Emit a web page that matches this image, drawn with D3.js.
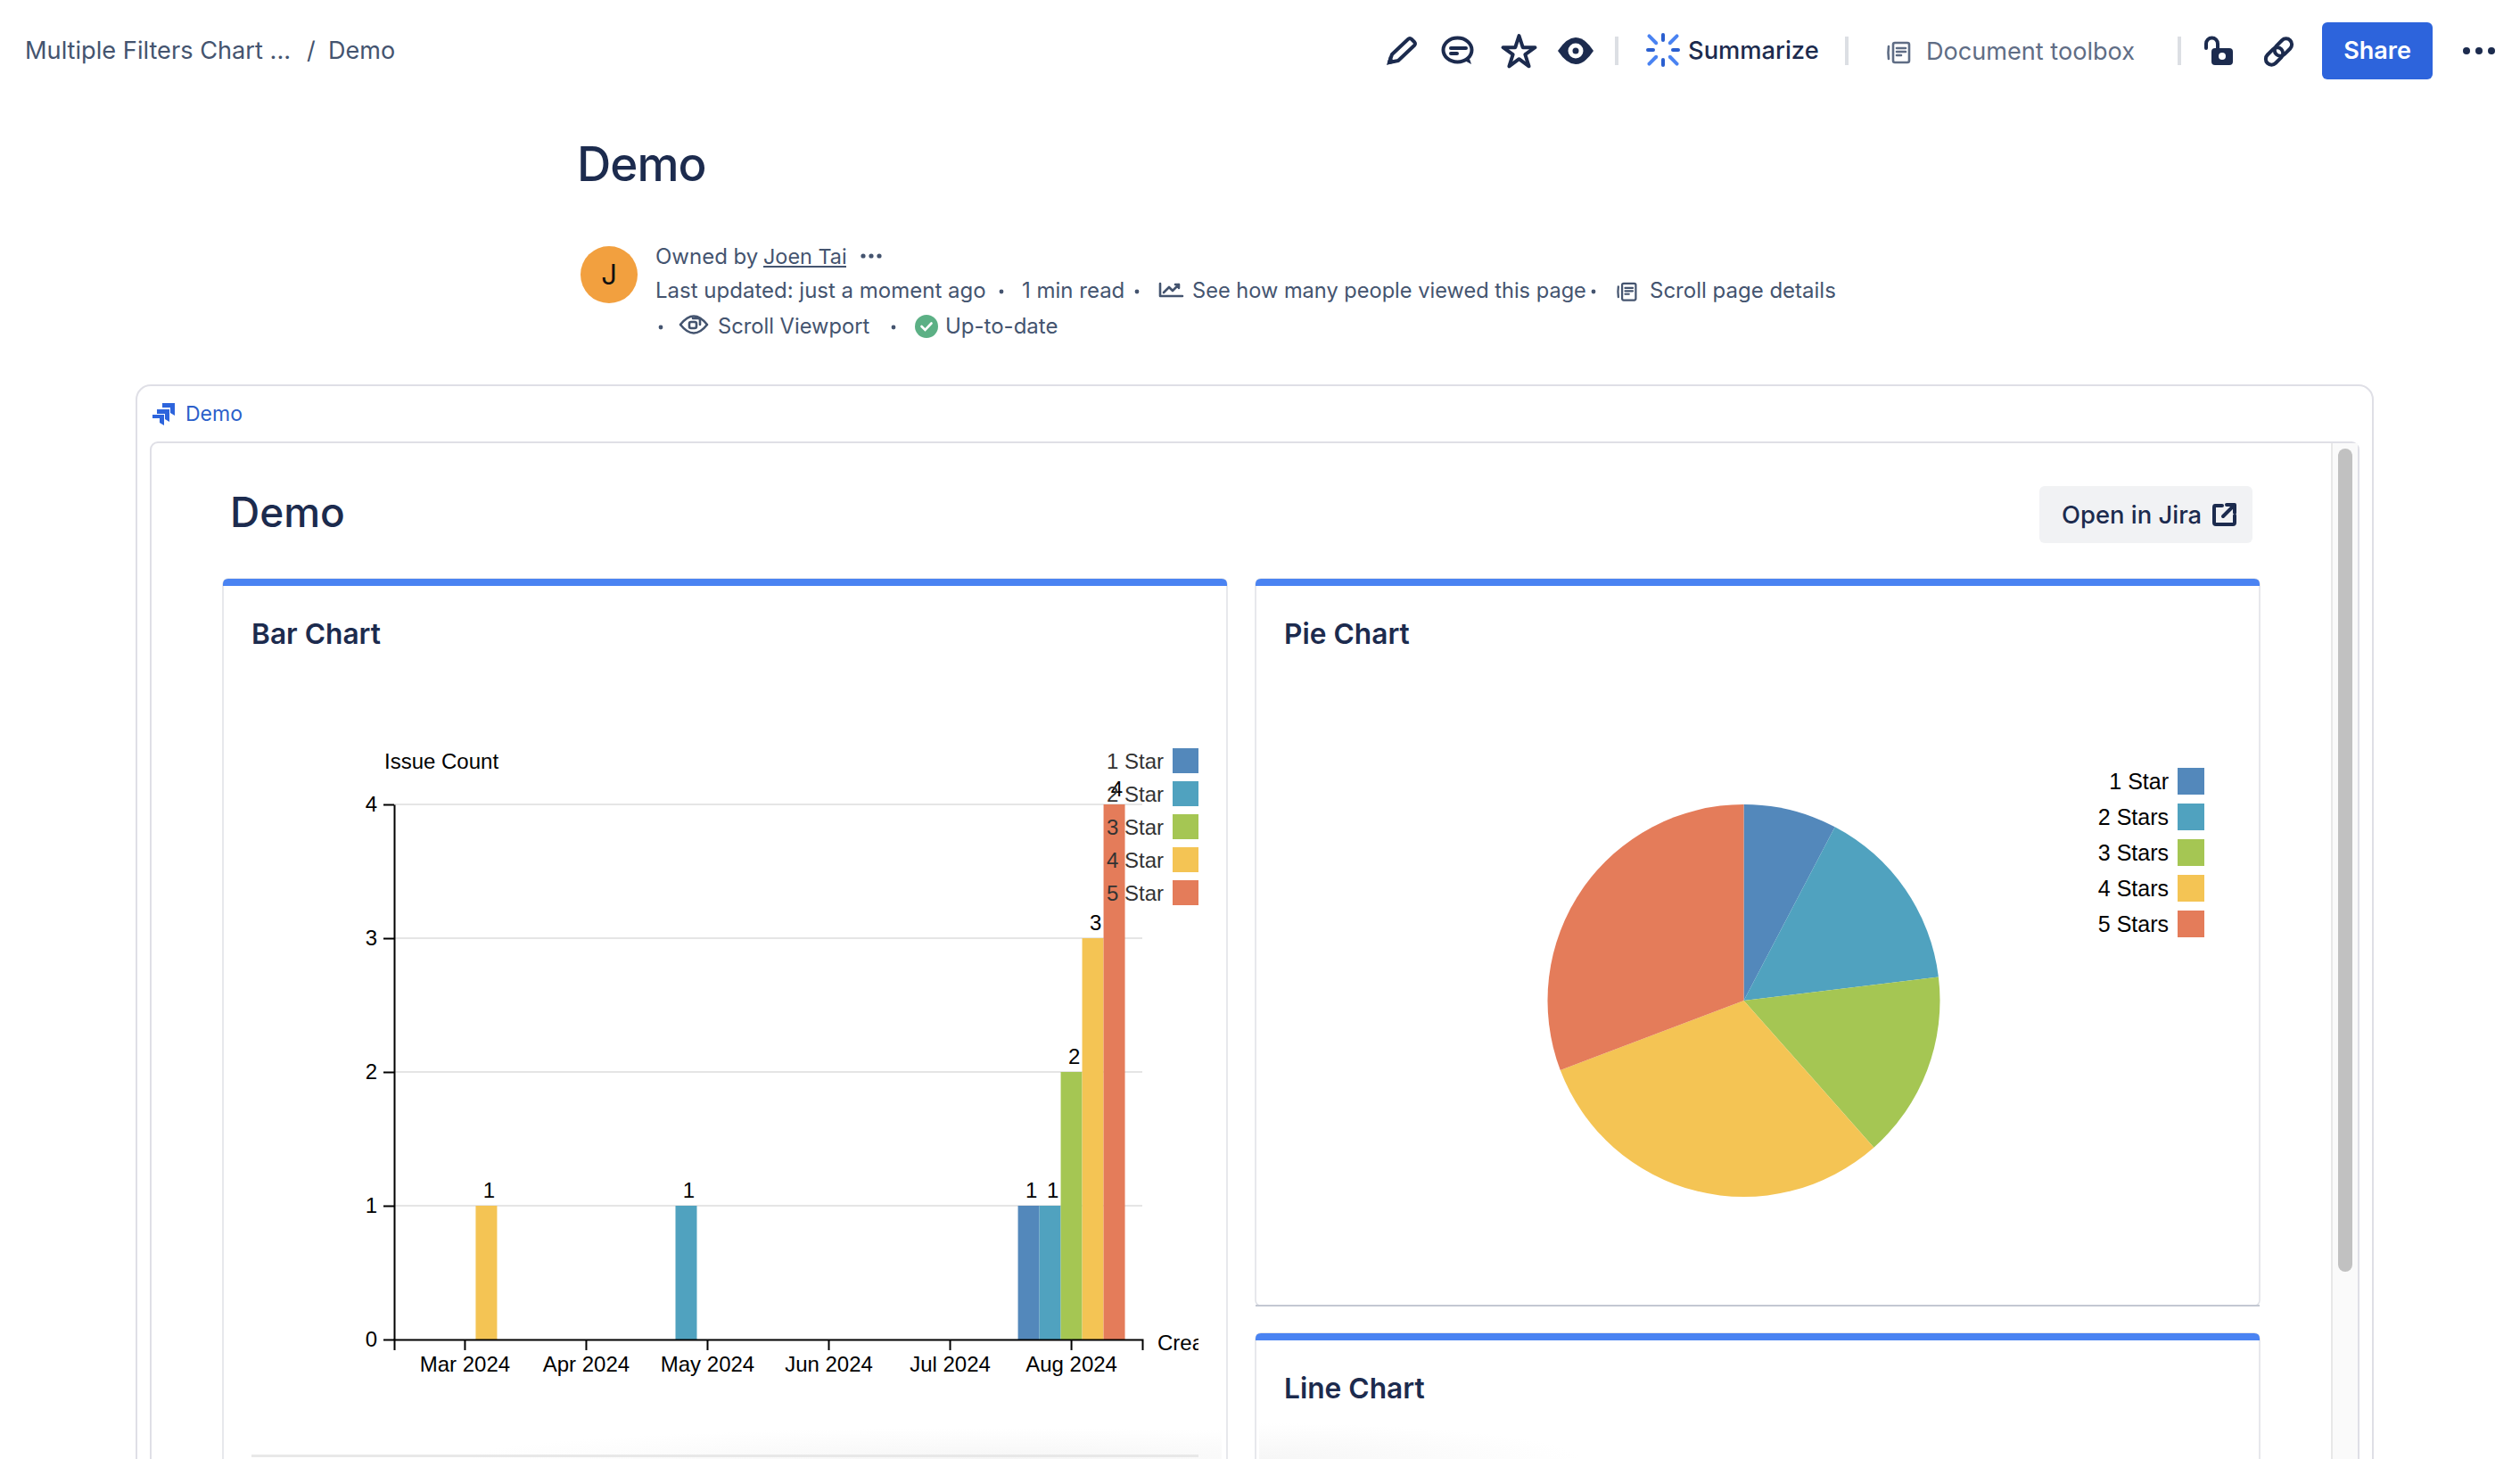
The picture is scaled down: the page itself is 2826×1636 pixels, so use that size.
<!DOCTYPE html>
<html>
<head>
<meta charset="utf-8">
<title>Demo</title>
<script src="https://d3js.org/d3.v7.min.js"></script>
<style>
  html, body { margin:0; padding:0; background:#fff; overflow:hidden; }
  svg { display:block; }
  text { font-family:Inter, "Noto Sans", sans-serif; }
  .chart text { font-family:"Liberation Sans", Arial, sans-serif; }
  .ink { fill:none; stroke:#1c2b4e; stroke-width:4; stroke-linecap:round; stroke-linejoin:round; }
  .grey { fill:none; stroke:#5f6d85; stroke-width:2.6; stroke-linecap:round; stroke-linejoin:round; }
  .slate { fill:none; stroke:#44546f; stroke-width:2.6; stroke-linecap:round; stroke-linejoin:round; }
  .domain, .tick line { stroke:#000; stroke-width:2px; }
</style>
</head>
<body>
<script>
// Chart data
const months = ["Mar 2024", "Apr 2024", "May 2024", "Jun 2024", "Jul 2024", "Aug 2024"];
const barKeys = ["1 Star", "2 Star", "3 Star", "4 Star", "5 Star"];
const star1 = [0, 0, 0, 0, 0, 1];
const star2 = [0, 0, 1, 0, 0, 1];
const star3 = [0, 0, 0, 0, 0, 2];
const star4 = [1, 0, 0, 0, 0, 3];
const star5 = [0, 0, 0, 0, 0, 4];
const countTicks = [0, 1, 2, 3, 4];

const pieKeys = ["1 Star", "2 Stars", "3 Stars", "4 Stars", "5 Stars"];
const pieValues = [1, 2, 2, 4, 4];

const starColors = ["#5388bb", "#50a2bf", "#a5c653", "#f4c454", "#e47c5a"];

const svg = d3.select("body").append("svg").attr("width", 2826).attr("height", 1636);

const defs = svg.append("defs");
defs.append("clipPath").attr("id", "barClip")
  .append("rect").attr("x", 282).attr("y", 780).attr("width", 1062).attr("height", 800);

// soft shade at the bottom of the cards
function shade(id, cx, cy, r) {
  const g = defs.append("radialGradient").attr("id", id).attr("cx", cx).attr("cy", cy).attr("r", r);
  g.append("stop").attr("offset", "0%").attr("stop-color", "#f6f6f6");
  g.append("stop").attr("offset", "100%").attr("stop-color", "#fff");
}
shade("fadeBar", 0.7, 1, 0.7);
shade("fadeLine", 0, 1, 1);

// small text helper
function label(parent, str, x, y, size, color, weight) {
  return parent.append("text").attr("x", x).attr("y", y)
    .attr("font-size", size).attr("fill", color).attr("font-weight", weight || 400).text(str);
}

function icon(x, y) {
  return svg.append("g").attr("transform", `translate(${x},${y})`);
}

function dot(x, y, r, color) {
  svg.append("circle").attr("cx", x).attr("cy", y).attr("r", r).attr("fill", color);
}

// ---- top bar ----
const slate = "#44546f", navy = "#1c2b4e";
label(svg, "Multiple Filters Chart ...", 28, 66, 27.2, slate);
label(svg, "/", 344, 66, 27, slate);
label(svg, "Demo", 368, 66, 27, slate);

const pencil = icon(1555, 41);
pencil.append("path").attr("class", "ink").attr("d", "M3 29 L6 20 L24 3 Q26 1 28 3 L31 6 Q33 8 31 10 L13 27 Z");
pencil.append("path").attr("fill", navy).attr("d", "M0 32 L3 22 L10 29 Z");

const comment = icon(1617, 41);
comment.append("ellipse").attr("class", "ink").attr("cx", 17.5).attr("cy", 15).attr("rx", 16).attr("ry", 13.5);
comment.append("path").attr("fill", navy).attr("d", "M24 26 L33 31 L30 22 Z");
comment.append("path").attr("class", "ink").attr("d", "M10 13 H27 M10 19 H17");

svg.append("path").attr("class", "ink")
  .attr("transform", "translate(1703.5,59)")
  .attr("d", d3.symbol(d3.symbolStar).size(400)());

const eye = icon(1747, 57);
eye.append("path").attr("fill", navy).attr("d", "M0 0 Q20 -30 40 0 Q20 30 0 0 Z");
eye.append("circle").attr("cx", 20).attr("r", 8.5).attr("fill", "#fff");
eye.append("circle").attr("cx", 20).attr("r", 3.5).attr("fill", navy);

[1811, 2069, 2442].forEach(x => {
  svg.append("rect").attr("x", x).attr("y", 41).attr("width", 4).attr("height", 32).attr("fill", "#dcdfe4");
});

// AI sparkle
const sparkle = icon(1865, 56);
d3.range(8).forEach(i => {
  const a = i * Math.PI / 4, diag = i % 2 === 1;
  const r0 = diag ? 11 : 11, r1 = diag ? 22 : 17;
  sparkle.append("line")
    .attr("x1", r0 * Math.cos(a)).attr("y1", r0 * Math.sin(a))
    .attr("x2", r1 * Math.cos(a)).attr("y2", r1 * Math.sin(a))
    .attr("stroke", diag ? "#4a83f2" : "#2a5fd0").attr("stroke-width", 4).attr("stroke-linecap", "round");
});
label(svg, "Summarize", 1893, 66, 27.3, navy, 500);

function docIcon(x, y, cls, k) {
  const g = icon(x, y).attr("transform", `translate(${x},${y}) scale(${k})`);
  g.append("rect").attr("class", cls).attr("x", 6).attr("y", 1).attr("width", 18).attr("height", 22).attr("rx", 2);
  g.append("path").attr("class", cls).attr("d", "M1 5 Q0 12 1 19 M10 7 H20 M10 11 H20 M10 15 H15");
}
docIcon(2117, 47, "grey", 1);
label(svg, "Document toolbox", 2160, 67, 27.1, "#5f6d85");

const lock = icon(2472, 41);
lock.append("path").attr("class", "ink").attr("d", "M2 13 V8 A6.5 6.5 0 0 1 15 8 V13");
lock.append("rect").attr("x", 8).attr("y", 13).attr("width", 24).attr("height", 19).attr("rx", 4).attr("fill", navy);
lock.append("circle").attr("cx", 20).attr("cy", 22).attr("r", 4).attr("fill", "#fff");

const link = icon(2555.5, 58).attr("transform", "translate(2555.5,58) rotate(-45)");
link.append("rect").attr("class", "ink").attr("x", -18).attr("y", -6.5).attr("width", 22).attr("height", 13).attr("rx", 6.5);
link.append("rect").attr("class", "ink").attr("x", -4).attr("y", -6.5).attr("width", 22).attr("height", 13).attr("rx", 6.5);

svg.append("rect").attr("x", 2604).attr("y", 25).attr("width", 124).attr("height", 64).attr("rx", 6).attr("fill", "#2d64dc");
label(svg, "Share", 2666, 66, 27, "#fff", 600).attr("text-anchor", "middle");
[2766, 2780, 2794].forEach(x => dot(x, 57, 4, navy));

// ---- page header ----
label(svg, "Demo", 647, 203, 53, navy, 500).attr("letter-spacing", -1);

svg.append("circle").attr("cx", 683).attr("cy", 308).attr("r", 32).attr("fill", "#f2a03f");
label(svg, "J", 683, 319, 31, "#111").attr("text-anchor", "middle");

label(svg, "Owned by", 735, 296, 24, slate);
label(svg, "Joen Tai", 856, 296, 23.4, slate);
svg.append("rect").attr("x", 856).attr("y", 298).attr("width", 93).attr("height", 2).attr("fill", slate);
[968, 977, 986].forEach(x => dot(x, 287, 2.6, slate));

label(svg, "Last updated: just a moment ago", 735, 334, 24, slate);
dot(1123, 327, 2.4, slate);
label(svg, "1 min read", 1146, 334, 24, slate);
dot(1275, 327, 2.4, slate);
icon(1300, 317).append("path").attr("class", "slate")
  .attr("d", "M1 1 V15 H26 M5 11 L11 5 L15 9 L22 2 M18 2 H22 V6");
label(svg, "See how many people viewed this page", 1337, 334, 23.6, slate);
dot(1787, 327, 2.4, slate);
docIcon(1814, 317, "slate", 0.85);
label(svg, "Scroll page details", 1850, 334, 24, slate);

dot(741, 367, 2.4, slate);
const viewEye = icon(762, 364);
viewEye.append("path").attr("class", "slate").attr("d", "M1 0 Q16 -19 31 0 Q16 19 1 0 Z");
viewEye.append("rect").attr("class", "slate").attr("stroke-width", 2).attr("x", 11).attr("y", -3).attr("width", 8).attr("height", 7).attr("rx", 2);
viewEye.append("path").attr("class", "slate").attr("stroke-width", 2).attr("d", "M15 -7 H21 Q23 -7 23 -5 V0");
label(svg, "Scroll Viewport", 805, 374, 23.7, slate);
dot(1002, 367, 2.4, slate);
svg.append("circle").attr("cx", 1039).attr("cy", 366).attr("r", 13).attr("fill", "#5cb085");
svg.append("path").attr("fill", "none").attr("stroke", "#fff").attr("stroke-width", 2.6).attr("stroke-linecap", "round")
  .attr("d", "M1033.5 366 L1037.5 370 L1044.5 362.5");
label(svg, "Up-to-date", 1060, 374, 24, slate);

// ---- jira macro frames ----
const frameLine = "#dfdfe6";
svg.append("rect").attr("x", 153).attr("y", 432).attr("width", 2508).attr("height", 1300).attr("rx", 16)
  .attr("fill", "#fff").attr("stroke", frameLine).attr("stroke-width", 2);

const jira = icon(171, 452);
["M11 0 H25 V14 L20 11 V5 H11 Z", "M5 7 H19 V21 L14 18 V12 H5 Z", "M0 13 H13 V25 L8 22 V17 H0 Z"].forEach(d => {
  jira.append("path").attr("fill", "#2d64dc").attr("d", d);
});
label(svg, "Demo", 208, 472, 23, "#2c5fca");

svg.append("rect").attr("x", 169).attr("y", 496).attr("width", 2476).attr("height", 1300).attr("rx", 8)
  .attr("fill", "#fff").attr("stroke", frameLine).attr("stroke-width", 2);
svg.append("rect").attr("x", 2615).attr("y", 497).attr("width", 29).attr("height", 1200).attr("fill", "#fafafa");
svg.append("rect").attr("x", 2614).attr("y", 497).attr("width", 2).attr("height", 1200).attr("fill", "#e8e8e8");
svg.append("rect").attr("x", 2622).attr("y", 503).attr("width", 16).attr("height", 923).attr("rx", 8).attr("fill", "#c1c1c1");

label(svg, "Demo", 258, 591, 46, navy, 500);

svg.append("rect").attr("x", 2287).attr("y", 545).attr("width", 239).attr("height", 64).attr("rx", 6).attr("fill", "#f1f2f4");
label(svg, "Open in Jira", 2312, 587, 27.4, navy, 500);
icon(2482, 565).append("path").attr("class", "ink").attr("stroke-width", 3)
  .attr("d", "M10 2 H2 Q1 2 1 4 V21 Q1 23 3 23 H22 Q24 23 24 21 V13 M11 14 L23 2 M15 1 H24 V10");

// ---- cards ----
function card(x, y, w, h, title) {
  svg.append("rect").attr("x", x).attr("y", y).attr("width", w).attr("height", h).attr("rx", 6)
    .attr("fill", "#fff").attr("stroke", "#dfe1e6").attr("stroke-width", 1.5);
  svg.append("path").attr("fill", "#4a83f2")
    .attr("d", `M${x} ${y + 8} V${y + 6} Q${x} ${y} ${x + 6} ${y} H${x + w - 6} Q${x + w} ${y} ${x + w} ${y + 6} V${y + 8} Z`);
  label(svg, title, x + 32, y + 73, 31.7, navy, 600);
}
card(250, 649, 1126, 1200, "Bar Chart");
card(1408, 649, 1126, 815, "Pie Chart");
card(1408, 1495, 1126, 400, "Line Chart");
svg.append("rect").attr("x", 1408).attr("y", 1463).attr("width", 1126).attr("height", 2).attr("fill", "#c3c8d2");

// shade where the cards run out of the shot
svg.append("rect").attr("x", 520).attr("y", 1586).attr("width", 850).attr("height", 50).attr("fill", "url(#fadeBar)");
svg.append("rect").attr("x", 1412).attr("y", 1596).attr("width", 360).attr("height", 40).attr("fill", "url(#fadeLine)");
svg.append("rect").attr("x", 282).attr("y", 1631).attr("width", 1062).attr("height", 3).attr("fill", "#e8e8e8");

// ---- bar chart ----
const chart = svg.append("g").attr("class", "chart").attr("clip-path", "url(#barClip)");

const x0 = d3.scaleBand().domain(months).range([442, 1281]).paddingInner(0.118).paddingOuter(0.143);
const x1 = d3.scaleBand().domain(barKeys).range([0, x0.bandwidth()]);
const y = d3.scaleLinear().domain([0, 4]).range([1502, 902]);
const barRows = [star1, star2, star3, star4, star5];

chart.append("g").selectAll("line").data(countTicks.slice(1)).join("line")
  .attr("x1", 442).attr("x2", 1281)
  .attr("y1", d => y(d)).attr("y2", d => y(d))
  .attr("stroke", "#e5e5e5").attr("stroke-width", 2);

barRows.forEach((row, s) => {
  const cells = months.map((m, i) => ({ month: m, value: row[i] })).filter(d => d.value > 0);
  chart.append("g").selectAll("rect").data(cells).join("rect")
    .attr("x", d => x0(d.month) + x1(barKeys[s]))
    .attr("y", d => y(d.value))
    .attr("width", x1.bandwidth())
    .attr("height", d => y(0) - y(d.value))
    .attr("fill", starColors[s]);
  chart.append("g").selectAll("text").data(cells).join("text")
    .attr("x", d => x0(d.month) + x1(barKeys[s]) + x1.bandwidth() / 2 + 3)
    .attr("y", d => y(d.value) - 9)
    .attr("text-anchor", "middle").attr("font-size", 24).attr("fill", "#000")
    .text(d => d.value);
});

const yAxis = d3.axisLeft(y).tickValues(countTicks).tickFormat(d3.format("d")).tickSize(12).tickSizeOuter(0).tickPadding(7);
const xAxis = d3.axisBottom(x0).tickSize(12).tickPadding(7);

const yG = chart.append("g").attr("transform", "translate(442,0)").call(yAxis);
const xG = chart.append("g").attr("transform", "translate(0,1502)").call(xAxis);
[yG, xG].forEach(g => g.selectAll("text").attr("font-size", 24).attr("fill", "#000"));
[yG, xG].forEach(g => g.attr("font-family", null).attr("font-size", null));

label(chart, "Issue Count", 431, 862, 24, "#000");
label(chart, "Created", 1298, 1514, 24, "#000");

barKeys.forEach((k, i) => {
  const ly = d3.scaleLinear().domain([0, 1]).range([839, 876]);
  chart.append("rect").attr("x", 1315).attr("y", ly(i)).attr("width", 40).attr("height", 28).attr("fill", starColors[i]);
  label(chart, k, 1305, ly(i) + 23, 24, "#333").attr("text-anchor", "end");
});

// ---- pie chart ----
const pieG = svg.append("g").attr("class", "chart").attr("transform", "translate(1955.5,1122)");
const pie = d3.pie().sort(null);
const arc = d3.arc().innerRadius(0).outerRadius(220);
pieG.selectAll("path").data(pie(pieValues)).join("path")
  .attr("d", arc)
  .attr("fill", (d, i) => starColors[i]);

const legendY = d3.scalePoint().domain(pieKeys).range([861, 1021]);
const pieLegend = svg.append("g").attr("class", "chart");
pieKeys.forEach((k, i) => {
  pieLegend.append("rect").attr("x", 2442).attr("y", legendY(k)).attr("width", 30).attr("height", 30).attr("fill", starColors[i]);
  label(pieLegend, k, 2432, legendY(k) + 24, 25, "#000").attr("text-anchor", "end");
});
</script>
</body>
</html>
